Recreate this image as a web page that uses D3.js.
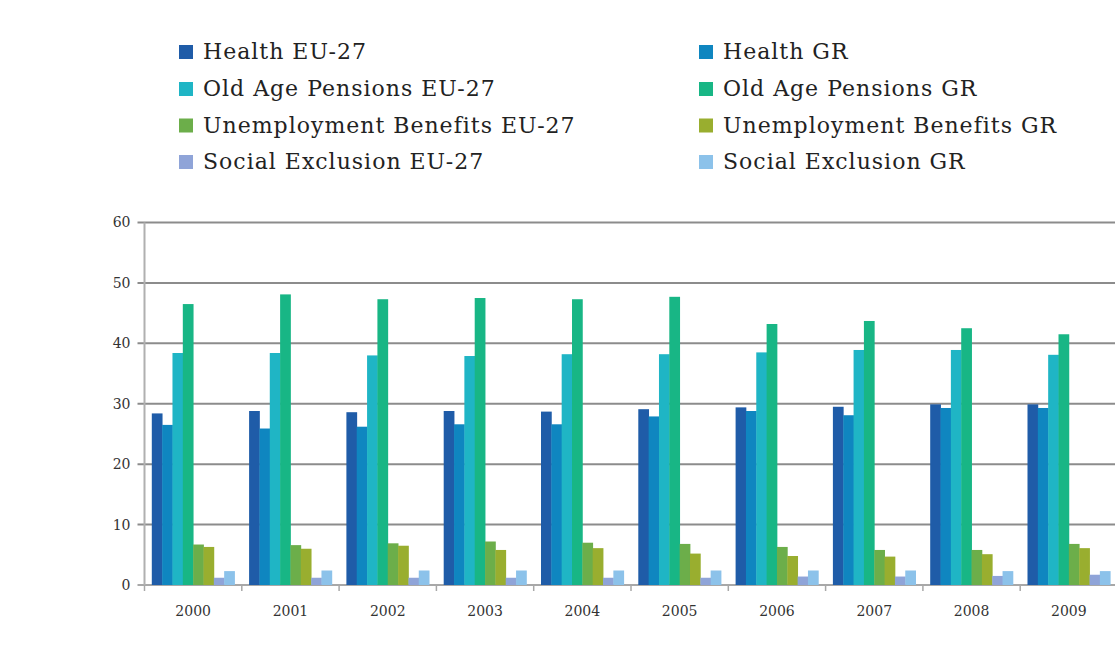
<!DOCTYPE html>
<html>
<head>
<meta charset="utf-8">
<script src="https://cdn.jsdelivr.net/npm/d3@7"></script>
<style>
  html, body { margin: 0; padding: 0; background: #ffffff; }
  svg { display: block; }
</style>
</head>
<body>
<svg id="chart" width="1115" height="661"></svg>
<script>
// Social protection expenditure by function, EU-27 vs Greece (% of total)
const years = ["2000","2001","2002","2003","2004","2005","2006","2007","2008","2009"];
const seriesNames = [
  "Health EU-27", "Health GR",
  "Old Age Pensions EU-27", "Old Age Pensions GR",
  "Unemployment Benefits EU-27", "Unemployment Benefits GR",
  "Social Exclusion EU-27", "Social Exclusion GR"
];
const healthEU   = [28.4, 28.8, 28.6, 28.8, 28.7, 29.1, 29.4, 29.5, 29.9, 29.9];
const healthGR   = [26.5, 25.9, 26.2, 26.6, 26.6, 27.9, 28.8, 28.1, 29.3, 29.3];
const pensionsEU = [38.4, 38.4, 38.0, 37.9, 38.2, 38.2, 38.5, 38.9, 38.9, 38.1];
const pensionsGR = [46.5, 48.1, 47.3, 47.5, 47.3, 47.7, 43.2, 43.7, 42.5, 41.5];
const unempEU    = [6.7, 6.6, 6.9, 7.2, 7.0, 6.8, 6.3, 5.8, 5.8, 6.8];
const unempGR    = [6.3, 6.0, 6.5, 5.8, 6.1, 5.2, 4.8, 4.7, 5.1, 6.1];
const exclEU     = [1.2, 1.2, 1.2, 1.2, 1.2, 1.2, 1.4, 1.4, 1.5, 1.7];
const exclGR     = [2.3, 2.4, 2.4, 2.4, 2.4, 2.4, 2.4, 2.4, 2.3, 2.3];
const yTicks = [0, 10, 20, 30, 40, 50, 60];

const seriesValues = [healthEU, healthGR, pensionsEU, pensionsGR, unempEU, unempGR, exclEU, exclGR];
const colors = ["#1f5ca8", "#0f86c0", "#1fb5c5", "#18b685", "#6cae4a", "#99ae2f", "#8fa4d8", "#8cc2ea"];

const svg = d3.select("#chart");
const plot = { left: 144.5, right: 1117.5, top: 222.5, bottom: 585 };

const x0 = d3.scaleBand().domain(years)
  .range([plot.left, plot.right]).paddingInner(0.15).paddingOuter(0.075);
const x1 = d3.scaleBand().domain(d3.range(seriesNames.length))
  .range([0, x0.bandwidth()]);
const y = d3.scaleLinear().domain([0, 60]).range([plot.bottom, plot.top]);

const serif = "'DejaVu Serif', 'Liberation Serif', serif";

// horizontal gridlines with short outer ticks
svg.append("g").selectAll("line").data(yTicks).join("line")
  .attr("x1", plot.left - 7).attr("x2", 1115)
  .attr("y1", d => y(d)).attr("y2", d => y(d))
  .attr("stroke", d => d === 0 ? "#a8a8a8" : "#8c8c8c")
  .attr("stroke-width", 2);

// vertical value axis line
svg.append("line")
  .attr("x1", plot.left).attr("x2", plot.left)
  .attr("y1", y(60)).attr("y2", y(0))
  .attr("stroke", "#b0b0b0").attr("stroke-width", 2);

// value axis labels
const yAxis = d3.axisLeft(y).tickValues(yTicks).tickSize(0).tickPadding(14);
svg.append("g").attr("transform", `translate(${plot.left},0)`).call(yAxis)
  .call(g => g.select(".domain").remove())
  .selectAll("text")
  .attr("font-family", serif).attr("font-size", 14).attr("fill", "#333");

// bars
const groups = svg.append("g").selectAll("g").data(years).join("g")
  .attr("transform", d => `translate(${x0(d)},0)`);
groups.selectAll("rect")
  .data((yr, i) => seriesValues.map((vals, s) => ({ s, v: vals[i] })))
  .join("rect")
  .attr("x", d => x1(d.s))
  .attr("width", x1.bandwidth() + 0.4)
  .attr("y", d => y(d.v))
  .attr("height", d => y(0) - y(d.v))
  .attr("fill", d => colors[d.s]);

// category ticks between year groups
const boundaries = years.map(d => x0(d) - x0.step() * x0.paddingInner() / 2);
boundaries[0] = plot.left;
svg.append("g").selectAll("line").data(boundaries).join("line")
  .attr("x1", d => d).attr("x2", d => d)
  .attr("y1", y(0)).attr("y2", y(0) + 6)
  .attr("stroke", "#a8a8a8").attr("stroke-width", 1.5);

// category axis labels
const xAxis = d3.axisBottom(x0).tickSize(0).tickPadding(21);
svg.append("g").attr("transform", `translate(0,${plot.bottom})`).call(xAxis)
  .call(g => g.select(".domain").remove())
  .selectAll("text")
  .attr("font-family", serif).attr("font-size", 14).attr("fill", "#333");

// legend: two columns, EU-27 on the left, GR on the right
const legend = svg.append("g");
const colX = [179, 699];
const rowY = [59, 96, 132.5, 169];
seriesNames.forEach((name, i) => {
  const col = i % 2, row = Math.floor(i / 2);
  const g = legend.append("g").attr("transform", `translate(${colX[col]},${rowY[row]})`);
  g.append("rect").attr("x", 0).attr("y", -14).attr("width", 14).attr("height", 14)
    .attr("fill", colors[i]);
  g.append("text").attr("x", 24).attr("y", 0)
    .attr("font-family", serif).attr("font-size", 22)
    .attr("letter-spacing", 1).attr("fill", "#222")
    .text(name);
});
</script>
</body>
</html>
